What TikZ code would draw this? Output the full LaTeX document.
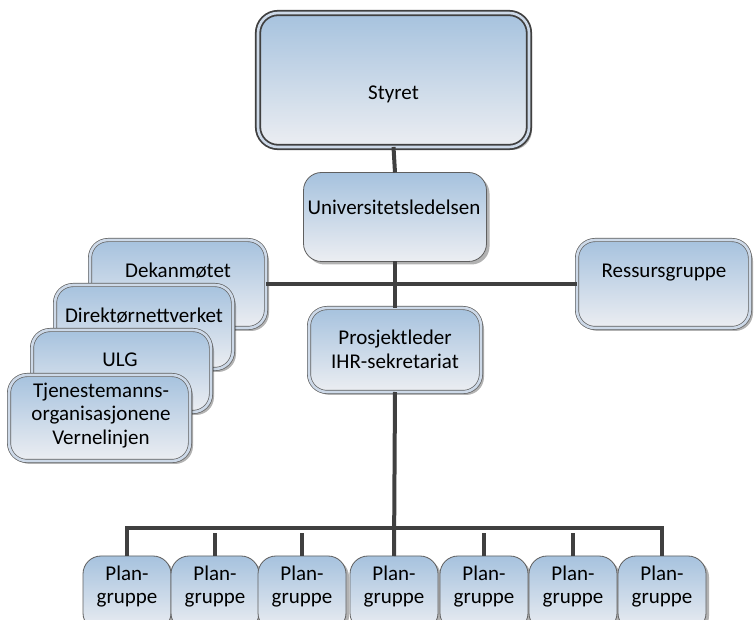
\documentclass[tikz,border=0pt]{standalone}
\usepackage{fontspec}
\setmainfont{Carlito}
\usetikzlibrary{shadows}
\definecolor{boxtop}{RGB}{166,194,222}
\definecolor{boxbot}{RGB}{236,238,242}
\definecolor{edge}{RGB}{95,95,95}
\definecolor{conncol}{RGB}{64,64,64}
\definecolor{gapcol}{RGB}{205,217,232}
\tikzset{
  base box/.style={rectangle, rounded corners=18pt, inner sep=0pt, outer sep=0pt,
    top color=boxtop, bottom color=boxbot,
    drop shadow={shadow xshift=3pt, shadow yshift=-3pt, opacity=0.3, fill=black}},
  dbox/.style={base box, draw=edge, line width=0.7pt, double=gapcol, double distance=2.6pt},
  sbox/.style={base box, draw=edge, line width=0.8pt},
  topbox/.style={base box, draw=conncol, line width=1.8pt, double=gapcol, double distance=2.6pt, rounded corners=20pt},
  plan/.style={sbox, minimum width=88pt, minimum height=75pt},
  lbl/.style={font=\fontsize{21}{23.5}\selectfont, inner sep=0pt, text=black, align=center},
  connector/.style={draw=conncol, line width=4pt},
}
\begin{document}
\begin{tikzpicture}[x=1pt,y=-1pt]
\useasboundingbox (0,0) rectangle (756,620);
\fill[white] (0,0) rectangle (756,620);
\clip (0,0) rectangle (756,620);

% top
\node[topbox, minimum width=271pt, minimum height=134pt] (sty) at (393.5,80) {};
\node[lbl, anchor=base] (tsty) at (393.5,100) {Styret};

\node[sbox, minimum width=183pt, minimum height=89pt] (univ) at (395,217) {};
\node[lbl, anchor=base] (tuniv) at (394,215) {Universitetsledelsen};

\node[dbox, minimum width=172pt, minimum height=84pt] (prosj) at (395,350) {};
\node[lbl] (tprosj) at (395,349.5) {Prosjektleder\\IHR-sekretariat};

% left stack
\node[dbox, minimum width=176pt, minimum height=88pt] (dek) at (178,284) {};
\node[lbl, anchor=base] (tdek) at (178,278) {Dekanmøtet};
\node[dbox, minimum width=178pt, minimum height=84pt] (dir) at (144,327) {};
\node[lbl, anchor=base] (tdir) at (144,323) {Direktørnettverket};
\node[dbox, minimum width=179pt, minimum height=82pt] (ulg) at (121.5,371) {};
\node[lbl, anchor=base] (tulg) at (120,367) {ULG};
\node[dbox, minimum width=181pt, minimum height=86pt] (tje) at (99.5,418) {};
\node[lbl] (ttje) at (101,415.5) {Tjenestemanns-\\organisasjonene\\Vernelinjen};

% right
\node[dbox, minimum width=173pt, minimum height=88pt] (res) at (663.5,284) {};
\node[lbl, anchor=base] (tres) at (664,278) {Ressursgruppe};

% plan groups
\foreach \i/\x in {1/127,2/215,3/302,4/394,5/484,6/573,7/662}{
  \node[plan] (p\i) at (\x,593.5) {};
  \node[lbl] (tp\i) at (\x,586.5) {Plan-\\gruppe};
}

% connectors
\draw[connector] (sty.south) -- (univ.north);
\draw[connector] (univ.south) -- (prosj.north);
\draw[connector] (dek.east) -- (res.west);
\draw[connector] (prosj.south) -- (p4.north);
\coordinate (bus) at (394,528);
\draw[connector] (p1.north) |- (bus) -| (p7.north);
\foreach \i in {2,3,5,6}{
  \draw[connector] (p\i.north) -- ++(0,-23);
}
\end{tikzpicture}
\end{document}
